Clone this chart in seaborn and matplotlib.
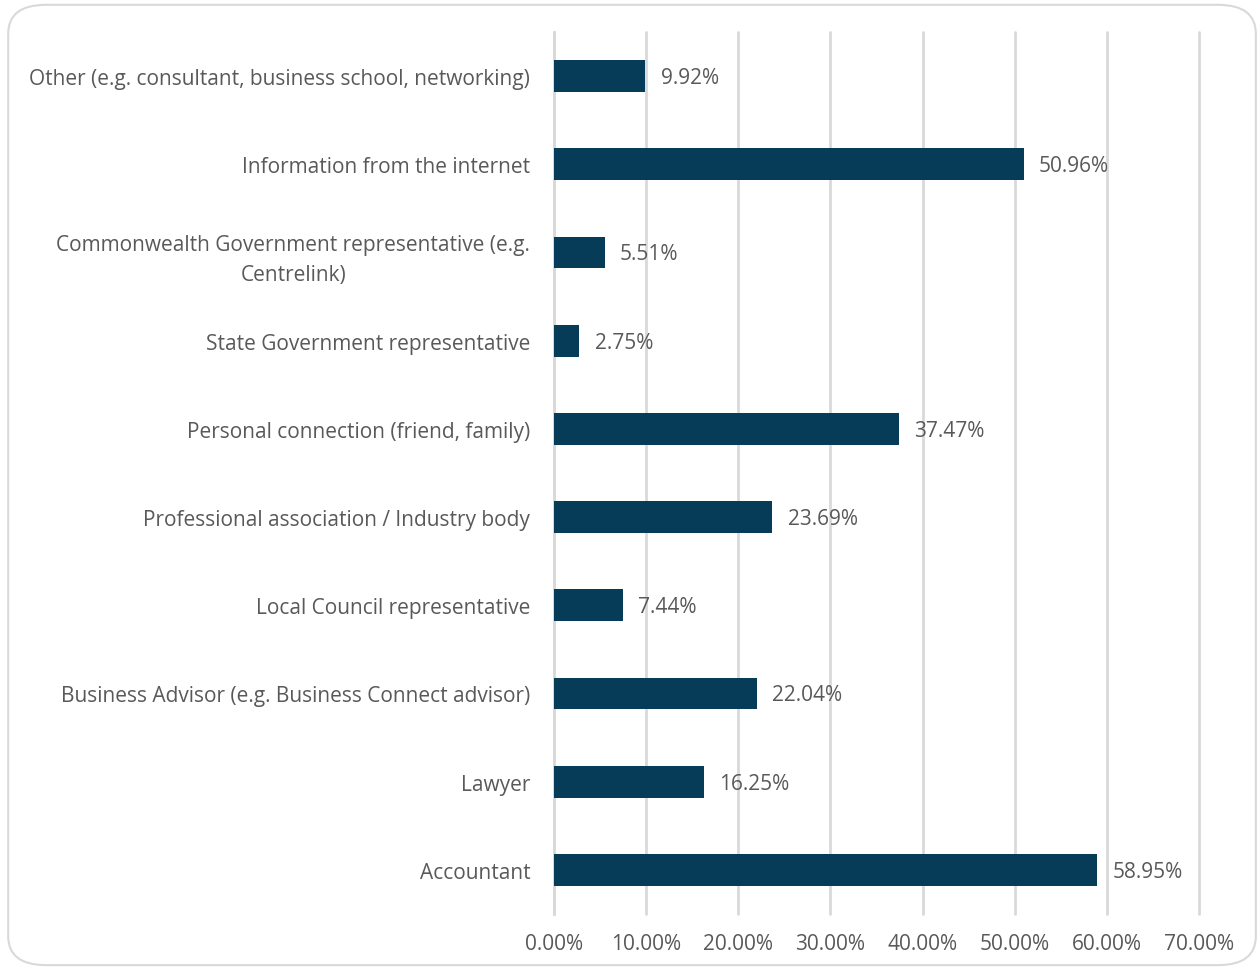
import matplotlib
matplotlib.use("Agg")
import matplotlib.pyplot as plt
from matplotlib.patches import FancyBboxPatch
import seaborn as sns
import pandas as pd

categories = [
    "Other (e.g. consultant, business school, networking)",
    "Information from the internet",
    "Commonwealth Government representative (e.g.\nCentrelink)",
    "State Government representative",
    "Personal connection (friend, family)",
    "Professional association / Industry body",
    "Local Council representative",
    "Business Advisor (e.g. Business Connect advisor)",
    "Lawyer",
    "Accountant",
]
values = [9.92, 50.96, 5.51, 2.75, 37.47, 23.69, 7.44, 22.04, 16.25, 58.95]
x_ticks = [0, 10, 20, 30, 40, 50, 60, 70]

df = pd.DataFrame({"source": categories, "pct": values})

sns.set_theme(style="white")
plt.rcParams["font.family"] = ["Open Sans", "DejaVu Sans"]

text_color = "#595959"
grid_color = "#D9D9D9"
bar_color = "#073C59"
fs = 15

fig = plt.figure(figsize=(12.59, 9.70), dpi=100)
ax = fig.add_axes([0.440, 0.0567, 0.5124, 0.9093])

# rounded frame around the chart
frame = FancyBboxPatch((0.0065, 0.004), 0.991, 0.99,
                       boxstyle="round,pad=0,rounding_size=0.03",
                       transform=fig.transFigure, facecolor="none",
                       edgecolor="#D9D9D9", linewidth=1.5, zorder=-5)
fig.patches.append(frame)

sns.barplot(data=df, x="pct", y="source", orient="h", color=bar_color,
            width=0.36, saturation=1, linewidth=0, ax=ax, zorder=3)

ax.set_xlim(0, 70)
ax.set_ylim(9.5, -0.5)
ax.set_xticks(x_ticks)
ax.set_xticklabels([f"{t:.2f}%" for t in x_ticks])
ax.xaxis.grid(True, color=grid_color, linewidth=2, zorder=0)
for gl in ax.get_xgridlines():
    gl.set_clip_on(False)
ax.yaxis.grid(False)
for s in ["top", "right", "bottom"]:
    ax.spines[s].set_visible(False)
ax.spines["left"].set_color(grid_color)
ax.spines["left"].set_linewidth(2)
ax.set_xlabel("")
ax.set_ylabel("")
ax.tick_params(axis="both", length=0, labelsize=fs, colors=text_color)
ax.tick_params(axis="x", pad=14)
ax.tick_params(axis="y", pad=17)
for lbl in ax.get_yticklabels():
    lbl.set_multialignment("center")
    lbl.set_linespacing(1.55)

for i, v in enumerate(values):
    ax.annotate(f"{v:.2f}%", xy=(v, i), xytext=(11, -1), textcoords="offset points",
                va="center", ha="left", fontsize=fs, color=text_color)

fig.savefig("out.png", dpi=100)
